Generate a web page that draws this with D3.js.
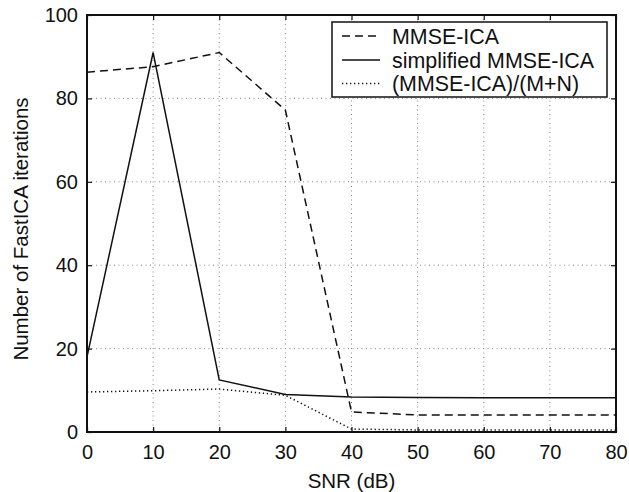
<!DOCTYPE html>
<html><head><meta charset="utf-8">
<script src="https://cdn.jsdelivr.net/npm/d3@7"></script>
<style>body{margin:0;background:#fff}text{font-family:"Liberation Sans",Arial,sans-serif;fill:#111}</style>
</head><body>
<svg id="c" width="629" height="492"></svg>
<script>
const snr = [0,10,20,30,40,50,60,70,80];
const mmse = [86.3,87.6,91.0,77.2,4.8,4.1,4.1,4.1,4.1];
const simplified = [18,91,12.5,9.0,8.4,8.3,8.2,8.2,8.2];
const normalized = [9.6,9.9,10.3,8.8,0.7,0.5,0.5,0.5,0.5];
const xTicks = [0,10,20,30,40,50,60,70,80];
const yTicks = [0,20,40,60,80,100];
const seriesNames = ["MMSE-ICA","simplified MMSE-ICA","(MMSE-ICA)/(M+N)"];

const svg = d3.select("#c");
const L=87,R=616,T=15,B=432;
const x = d3.scaleLinear().domain([0,80]).range([L,R]);
const y = d3.scaleLinear().domain([0,100]).range([B,T]);

// grid
const g = svg.append("g");
g.selectAll(".gx").data(xTicks.slice(1,-1)).join("line")
 .attr("x1",d=>x(d)).attr("x2",d=>x(d)).attr("y1",T).attr("y2",B)
 .attr("stroke","#888").attr("stroke-width",1).attr("stroke-dasharray","1,3.5");
g.selectAll(".gy").data(yTicks.slice(1,-1)).join("line")
 .attr("y1",d=>y(d)).attr("y2",d=>y(d)).attr("x1",L).attr("x2",R)
 .attr("stroke","#888").attr("stroke-width",1).attr("stroke-dasharray","1,3.5");

// axes with inward ticks
const fs = "20px";
const xa = svg.append("g").attr("transform",`translate(0,${B})`)
 .call(d3.axisBottom(x).tickValues(xTicks).tickSize(-5).tickPadding(13).tickFormat(d3.format("d")));
const xt = svg.append("g").attr("transform",`translate(0,${T})`)
 .call(d3.axisTop(x).tickValues(xTicks).tickSize(-5).tickFormat(""));
const ya = svg.append("g").attr("transform",`translate(${L},0)`)
 .call(d3.axisLeft(y).tickValues(yTicks).tickSize(-5).tickPadding(9).tickFormat(d3.format("d")));
const yr = svg.append("g").attr("transform",`translate(${R},0)`)
 .call(d3.axisRight(y).tickValues(yTicks).tickSize(-5).tickFormat(""));
[xa,xt,ya,yr].forEach(a=>{a.select(".domain").remove();a.selectAll("line").attr("stroke","#111").attr("stroke-width",1.2);
 a.selectAll("text").style("font-size",fs).style("font-family","'Liberation Sans',Arial,sans-serif").attr("fill","#111");});

// lines
const line = d3.line().x((d,i)=>x(snr[i])).y(d=>y(d));
const styles = [
 {data:mmse,dash:"8,5"},
 {data:simplified,dash:null},
 {data:normalized,dash:"1.3,2.7"}
];
styles.forEach(s=>{
 svg.append("path").datum(s.data).attr("d",line).attr("fill","none")
  .attr("stroke","#111").attr("stroke-width",1.5).attr("stroke-dasharray",s.dash);
});

// frame
svg.append("rect").attr("x",L).attr("y",T).attr("width",R-L).attr("height",B-T)
 .attr("fill","none").attr("stroke","#111").attr("stroke-width",2);

// legend
const lg = svg.append("g");
lg.append("rect").attr("x",332).attr("y",22).attr("width",275).attr("height",75)
 .attr("fill","#fff").attr("stroke","#111").attr("stroke-width",1.5);
const rows=[36,60,83.5];
styles.forEach((s,i)=>{
 lg.append("line").attr("x1",342).attr("x2",380).attr("y1",rows[i]).attr("y2",rows[i])
  .attr("stroke","#111").attr("stroke-width",1.5).attr("stroke-dasharray",s.dash);
 lg.append("text").attr("x",392).attr("y",rows[i]+7.5).style("font-size","21.4px").text(seriesNames[i]);
});

// axis labels
svg.append("text").attr("x",(L+R)/2).attr("y",488).attr("text-anchor","middle").style("font-size","20.5px").text("SNR (dB)");
svg.append("text").attr("transform","translate(28,229) rotate(-90)").attr("text-anchor","middle").style("font-size","20.5px").text("Number of FastICA iterations");
</script>
</body></html>
